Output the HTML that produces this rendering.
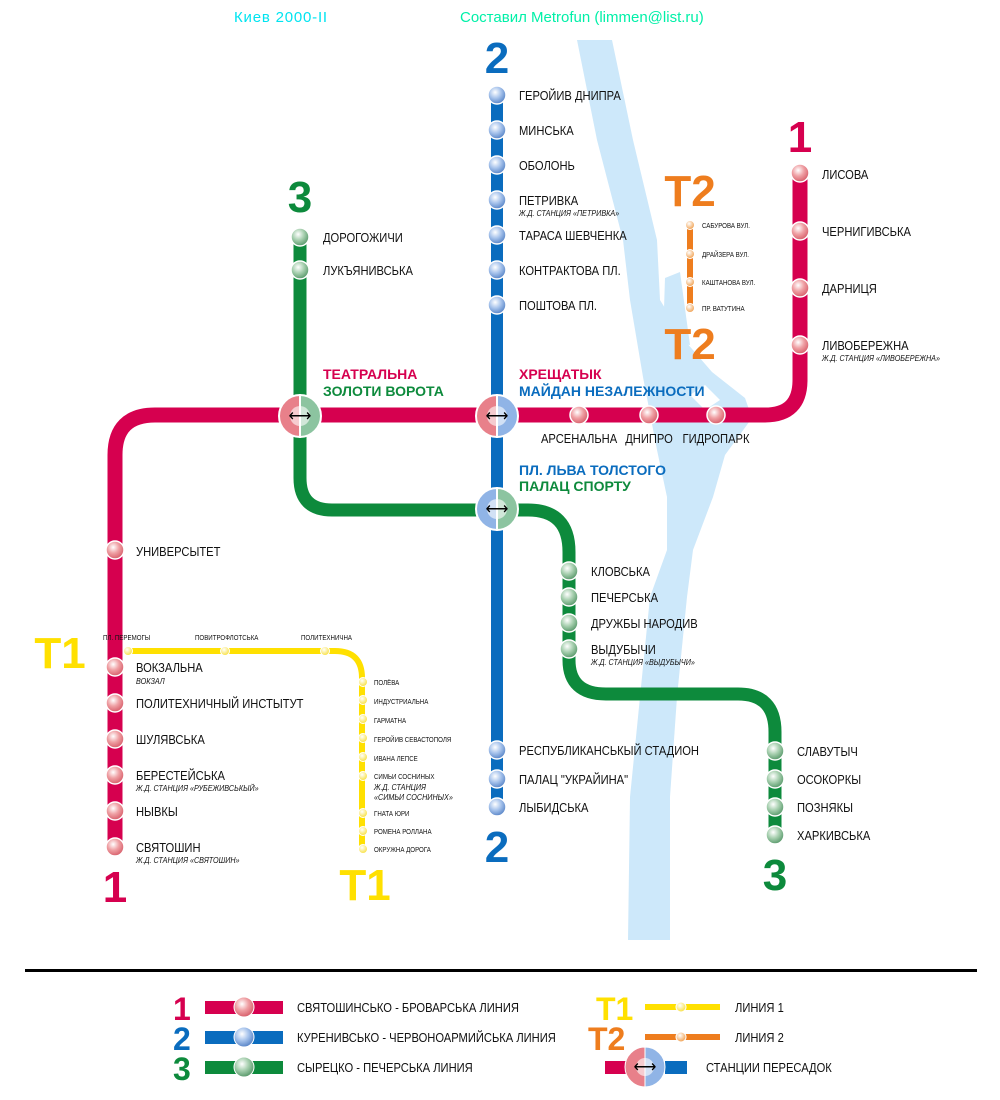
<!DOCTYPE html>
<html><head><meta charset="utf-8"><style>
html,body{margin:0;padding:0;background:#fff}
svg{display:block}
text{font-family:"Liberation Sans Narrow","Liberation Sans",sans-serif}
.s{font-size:13px;fill:#111;transform-box:fill-box;transform-origin:0 0;transform:scaleX(.86)}
.m{transform-origin:50% 0}
.sub{font-size:8px;font-style:italic;fill:#111;transform-box:fill-box;transform-origin:0 0;transform:scaleX(.9)}
.t{font-size:7px;fill:#111;transform-box:fill-box;transform-origin:0 0;transform:scaleX(.88)}
.big{font-family:"Liberation Sans",sans-serif;font-weight:bold;font-size:44px}
.ix{font-family:"Liberation Sans",sans-serif;font-weight:bold;font-size:14px}
</style></head><body>
<svg width="1000" height="1100" viewBox="0 0 1000 1100" xmlns="http://www.w3.org/2000/svg">
<defs>
<radialGradient id="gr" cx="40%" cy="35%" r="65%"><stop offset="0" stop-color="#fff"/><stop offset="0.5" stop-color="#efa0a4"/><stop offset="1" stop-color="#d8606c"/></radialGradient>
<radialGradient id="gb" cx="40%" cy="35%" r="65%"><stop offset="0" stop-color="#fff"/><stop offset="0.5" stop-color="#a8c4ec"/><stop offset="1" stop-color="#5a86c8"/></radialGradient>
<radialGradient id="gg" cx="40%" cy="35%" r="65%"><stop offset="0" stop-color="#fff"/><stop offset="0.5" stop-color="#a8d0b0"/><stop offset="1" stop-color="#5a9a6c"/></radialGradient>
<radialGradient id="gy" cx="40%" cy="35%" r="65%"><stop offset="0" stop-color="#fff"/><stop offset="1" stop-color="#f8e040"/></radialGradient>
<radialGradient id="go" cx="40%" cy="35%" r="65%"><stop offset="0" stop-color="#fff"/><stop offset="1" stop-color="#f0a050"/></radialGradient>
</defs>
<!-- river -->
<polygon fill="#cde8fa" points="577,40 597,140 623,240 630,300 643,377 657,450 667,497 667,550 650,597 640,697 630,797 628,940 670,940 670,797 677,697 687,597 693,550 713,497 725,455 752,418 745,398 712,372 686,342 660,300 657,240 633,140 612,40"/>
<polygon fill="#cde8fa" points="663,340 665,278 680,272 690,345"/>
<polygon fill="#fff" points="690,395 705,385 720,400 705,410"/>
<!-- header -->
<text x="234" y="22" font-family="'DejaVu Sans Mono',monospace" font-size="15" letter-spacing="0.8" fill="#00e4f0">Киев 2000-II</text>
<text x="460" y="22" font-family="'DejaVu Sans Mono',monospace" font-size="15" fill="#00f0a8">Составил Metrofun (limmen@list.ru)</text>
<!-- lines -->
<path d="M497,95 V808" stroke="#0a6cbe" stroke-width="12" fill="none"/>
<path d="M300,237 V478 Q300,510 332,510 H528 Q569,510 569,552 V660 Q569,694 606,694 H738 Q775,694 775,732 V835" stroke="#0d8a3c" stroke-width="13" fill="none"/>
<path d="M115,848 V455 Q115,415 155,415 H765 Q800,415 800,380 V173" stroke="#d6004f" stroke-width="15" fill="none"/>
<path d="M128,651 H335 Q362,651 362,678 V850" stroke="#ffe000" stroke-width="6" fill="none"/>
<path d="M690,225 V308" stroke="#ee7d1e" stroke-width="6" fill="none"/>
<!-- station balls -->
<g stroke="#fff" stroke-width="1.5">
<g fill="url(#gb)"><circle cx="497" cy="95" r="9"/><circle cx="497" cy="130" r="9"/><circle cx="497" cy="165" r="9"/><circle cx="497" cy="200" r="9"/><circle cx="497" cy="235" r="9"/><circle cx="497" cy="270" r="9"/><circle cx="497" cy="305" r="9"/><circle cx="497" cy="750" r="9"/><circle cx="497" cy="779" r="9"/><circle cx="497" cy="807" r="9"/></g>
<g fill="url(#gr)"><circle cx="115" cy="550" r="9"/><circle cx="115" cy="667" r="9"/><circle cx="115" cy="703" r="9"/><circle cx="115" cy="739" r="9"/><circle cx="115" cy="775" r="9"/><circle cx="115" cy="811" r="9"/><circle cx="115" cy="847" r="9"/><circle cx="579" cy="415" r="9"/><circle cx="649" cy="415" r="9"/><circle cx="716" cy="415" r="9"/><circle cx="800" cy="173" r="9"/><circle cx="800" cy="231" r="9"/><circle cx="800" cy="288" r="9"/><circle cx="800" cy="345" r="9"/></g>
<g fill="url(#gg)"><circle cx="300" cy="237" r="9"/><circle cx="300" cy="270" r="9"/><circle cx="569" cy="571" r="9"/><circle cx="569" cy="597" r="9"/><circle cx="569" cy="623" r="9"/><circle cx="569" cy="649" r="9"/><circle cx="775" cy="751" r="9"/><circle cx="775" cy="779" r="9"/><circle cx="775" cy="807" r="9"/><circle cx="775" cy="835" r="9"/></g>
<g fill="url(#gy)" stroke-width="1"><circle cx="128" cy="651" r="4.5"/><circle cx="225" cy="651" r="4.5"/><circle cx="325" cy="651" r="4.5"/><circle cx="363" cy="682" r="4.5"/><circle cx="363" cy="700" r="4.5"/><circle cx="363" cy="719" r="4.5"/><circle cx="363" cy="738" r="4.5"/><circle cx="363" cy="757" r="4.5"/><circle cx="363" cy="776" r="4.5"/><circle cx="363" cy="813" r="4.5"/><circle cx="363" cy="831" r="4.5"/><circle cx="363" cy="849" r="4.5"/></g>
<g fill="url(#go)" stroke-width="1"><circle cx="690" cy="225" r="4.5"/><circle cx="690" cy="254" r="4.5"/><circle cx="690" cy="282" r="4.5"/><circle cx="690" cy="308" r="4.5"/></g>
</g>
<!-- interchanges -->
<g stroke="#fff" stroke-width="2">
<path d="M300,395 A21,21 0 0 0 300,437 Z" fill="#e8808a"/><path d="M300,395 A21,21 0 0 1 300,437 Z" fill="#8cc4a0"/>
<path d="M497,395 A21,21 0 0 0 497,437 Z" fill="#e8808a"/><path d="M497,395 A21,21 0 0 1 497,437 Z" fill="#90b4e6"/>
<path d="M497,488 A21,21 0 0 0 497,530 Z" fill="#90b4e6"/><path d="M497,488 A21,21 0 0 1 497,530 Z" fill="#8cc4a0"/>
</g>
<g fill="#fff" opacity="0.6"><circle cx="300" cy="416" r="10"/><circle cx="497" cy="416" r="10"/><circle cx="497" cy="509" r="10"/></g>
<g font-family="'DejaVu Sans',sans-serif" font-size="16" text-anchor="middle" fill="#000"><text x="300" y="421">⟷</text><text x="497" y="421">⟷</text><text x="497" y="514">⟷</text></g>
<!-- big numbers -->
<text class="big" x="497" y="73" fill="#0a6cbe" text-anchor="middle">2</text>
<text class="big" x="497" y="862" fill="#0a6cbe" text-anchor="middle">2</text>
<text class="big" x="300" y="212" fill="#0d8a3c" text-anchor="middle">3</text>
<text class="big" x="775" y="890" fill="#0d8a3c" text-anchor="middle">3</text>
<text class="big" x="800" y="152" fill="#d6004f" text-anchor="middle">1</text>
<text class="big" x="115" y="902" fill="#d6004f" text-anchor="middle">1</text>
<text class="big" x="60" y="668" fill="#ffe000" text-anchor="middle">Т1</text>
<text class="big" x="365" y="900" fill="#ffe000" text-anchor="middle">Т1</text>
<text class="big" x="690" y="206" fill="#ee7d1e" text-anchor="middle">Т2</text>
<text class="big" x="690" y="359" fill="#ee7d1e" text-anchor="middle">Т2</text>
<!-- interchange labels -->
<text class="ix" x="323" y="379" fill="#d6004f">ТЕАТРАЛЬНА</text>
<text class="ix" x="323" y="396" fill="#0d8a3c">ЗОЛОТИ ВОРОТА</text>
<text class="ix" x="519" y="379" fill="#d6004f">ХРЕЩАТЫК</text>
<text class="ix" x="519" y="396" fill="#0a6cbe">МАЙДАН НЕЗАЛЕЖНОСТИ</text>
<text class="ix" x="519" y="475" fill="#0a6cbe">ПЛ. ЛЬВА ТОЛСТОГО</text>
<text class="ix" x="519" y="491" fill="#0d8a3c">ПАЛАЦ СПОРТУ</text>
<!-- blue labels -->
<text class="s" x="519" y="100">ГЕРОЙИВ ДНИПРА</text>
<text class="s" x="519" y="135">МИНСЬКА</text>
<text class="s" x="519" y="170">ОБОЛОНЬ</text>
<text class="s" x="519" y="205">ПЕТРИВКА</text>
<text class="s" x="519" y="240">ТАРАСА ШЕВЧЕНКА</text>
<text class="s" x="519" y="275">КОНТРАКТОВА ПЛ.</text>
<text class="s" x="519" y="310">ПОШТОВА ПЛ.</text>
<text class="s" x="519" y="755">РЕСПУБЛИКАНСЬКЫЙ СТАДИОН</text>
<text class="s" x="519" y="784">ПАЛАЦ "УКРАЙИНА"</text>
<text class="s" x="519" y="812">ЛЫБИДСЬКА</text>
<!-- red -->
<text class="s" x="136" y="556">УНИВЕРСЫТЕТ</text>
<text class="s" x="136" y="672">ВОКЗАЛЬНА</text>
<text class="s" x="136" y="708">ПОЛИТЕХНИЧНЫЙ ИНСТЫТУТ</text>
<text class="s" x="136" y="744">ШУЛЯВСЬКА</text>
<text class="s" x="136" y="780">БЕРЕСТЕЙСЬКА</text>
<text class="s" x="136" y="816">НЫВКЫ</text>
<text class="s" x="136" y="852">СВЯТОШИН</text>
<text class="s m" x="579" y="443" text-anchor="middle">АРСЕНАЛЬНА</text>
<text class="s m" x="649" y="443" text-anchor="middle">ДНИПРО</text>
<text class="s m" x="716" y="443" text-anchor="middle">ГИДРОПАРК</text>
<text class="s" x="822" y="179">ЛИСОВА</text>
<text class="s" x="822" y="236">ЧЕРНИГИВСЬКА</text>
<text class="s" x="822" y="293">ДАРНИЦЯ</text>
<text class="s" x="822" y="350">ЛИВОБЕРЕЖНА</text>
<!-- green -->
<text class="s" x="323" y="242">ДОРОГОЖИЧИ</text>
<text class="s" x="323" y="275">ЛУКЪЯНИВСЬКА</text>
<text class="s" x="591" y="576">КЛОВСЬКА</text>
<text class="s" x="591" y="602">ПЕЧЕРСЬКА</text>
<text class="s" x="591" y="628">ДРУЖБЫ НАРОДИВ</text>
<text class="s" x="591" y="654">ВЫДУБЫЧИ</text>
<text class="s" x="797" y="756">СЛАВУТЫЧ</text>
<text class="s" x="797" y="784">ОСОКОРКЫ</text>
<text class="s" x="797" y="812">ПОЗНЯКЫ</text>
<text class="s" x="797" y="840">ХАРКИВСЬКА</text>
<text class="sub" x="519" y="216">Ж.Д. СТАНЦИЯ «ПЕТРИВКА»</text>
<text class="sub" x="136" y="684">ВОКЗАЛ</text>
<text class="sub" x="136" y="791">Ж.Д. СТАНЦИЯ «РУБЕЖИВСЬКЫЙ»</text>
<text class="sub" x="136" y="863">Ж.Д. СТАНЦИЯ «СВЯТОШИН»</text>
<text class="sub" x="822" y="361">Ж.Д. СТАНЦИЯ «ЛИВОБЕРЕЖНА»</text>
<text class="sub" x="591" y="665">Ж.Д. СТАНЦИЯ «ВЫДУБЫЧИ»</text>
<!-- T1 labels -->
<text class="t" x="103" y="640">ПЛ. ПЕРЕМОГЫ</text>
<text class="t" x="195" y="640">ПОВИТРОФЛОТСЬКА</text>
<text class="t" x="301" y="640">ПОЛИТЕХНИЧНА</text>
<text class="t" x="374" y="685">ПОЛЁВА</text>
<text class="t" x="374" y="704">ИНДУСТРИАЛЬНА</text>
<text class="t" x="374" y="723">ГАРМАТНА</text>
<text class="t" x="374" y="742">ГЕРОЙИВ СЕВАСТОПОЛЯ</text>
<text class="t" x="374" y="761">ИВАНА ЛЕПСЕ</text>
<text class="t" x="374" y="779">СИМЬИ СОСНИНЫХ</text>
<text class="sub" x="374" y="790">Ж.Д. СТАНЦИЯ</text>
<text class="sub" x="374" y="800">«СИМЬИ СОСНИНЫХ»</text>
<text class="t" x="374" y="816">ГНАТА ЮРИ</text>
<text class="t" x="374" y="834">РОМЕНА РОЛЛАНА</text>
<text class="t" x="374" y="852">ОКРУЖНА ДОРОГА</text>
<!-- T2 labels -->
<text class="t" x="702" y="228">САБУРОВА ВУЛ.</text>
<text class="t" x="702" y="257">ДРАЙЗЕРА ВУЛ.</text>
<text class="t" x="702" y="285">КАШТАНОВА ВУЛ.</text>
<text class="t" x="702" y="311">ПР. ВАТУТИНА</text>
<!-- separator -->
<rect x="25" y="969" width="952" height="3" fill="#000"/>
<!-- legend -->
<g font-family="'Liberation Sans',sans-serif" font-weight="bold" font-size="32">
<text x="173" y="1020" fill="#d6004f">1</text>
<text x="173" y="1050" fill="#0a6cbe">2</text>
<text x="173" y="1080" fill="#0d8a3c">3</text>
<text x="596" y="1020" fill="#ffe000">Т1</text>
<text x="588" y="1050" fill="#ee7d1e">Т2</text>
</g>
<rect x="205" y="1001" width="78" height="13" fill="#d6004f"/><circle cx="244" cy="1007" r="10" fill="url(#gr)" stroke="#fff"/>
<rect x="205" y="1031" width="78" height="13" fill="#0a6cbe"/><circle cx="244" cy="1037" r="10" fill="url(#gb)" stroke="#fff"/>
<rect x="205" y="1061" width="78" height="13" fill="#0d8a3c"/><circle cx="244" cy="1067" r="10" fill="url(#gg)" stroke="#fff"/>
<rect x="645" y="1004" width="75" height="6" fill="#ffe000"/><circle cx="681" cy="1007" r="5" fill="url(#gy)" stroke="#fff"/>
<rect x="645" y="1034" width="75" height="6" fill="#ee7d1e"/><circle cx="681" cy="1037" r="5" fill="url(#go)" stroke="#fff"/>
<rect x="605" y="1061" width="22" height="13" fill="#d6004f"/><rect x="665" y="1061" width="22" height="13" fill="#0a6cbe"/>
<path d="M645,1047 A20,20 0 0 0 645,1087 Z" fill="#e8808a" stroke="#fff"/><path d="M645,1047 A20,20 0 0 1 645,1087 Z" fill="#90b4e6" stroke="#fff"/>
<circle cx="645" cy="1067" r="9" fill="#fff" opacity="0.6"/>
<text x="645" y="1072" font-family="'DejaVu Sans',sans-serif" font-size="16" text-anchor="middle">⟷</text>
<text class="s" x="297" y="1012">СВЯТОШИНСЬКО - БРОВАРСЬКА  ЛИНИЯ</text>
<text class="s" x="297" y="1042">КУРЕНИВСЬКО - ЧЕРВОНОАРМИЙСЬКА  ЛИНИЯ</text>
<text class="s" x="297" y="1072">СЫРЕЦКО - ПЕЧЕРСЬКА  ЛИНИЯ</text>
<text class="s" x="735" y="1012">ЛИНИЯ 1</text>
<text class="s" x="735" y="1042">ЛИНИЯ 2</text>
<text class="s" x="706" y="1072">СТАНЦИИ ПЕРЕСАДОК</text>
</svg>
</body></html>
